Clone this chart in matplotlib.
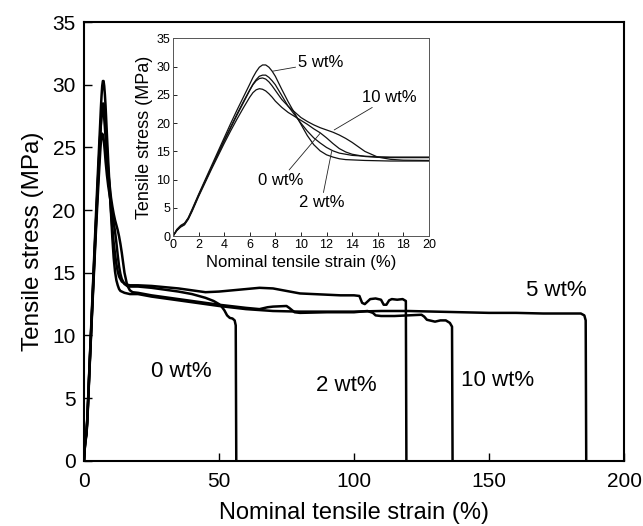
import matplotlib
matplotlib.use("Agg")
import matplotlib.pyplot as plt
import numpy as np

plt.rcParams['font.family'] = ['Liberation Sans', 'DejaVu Sans']

# ---- data ----
series_names = ["0 wt%", "2 wt%", "5 wt%", "10 wt%"]

strain_early = [0, 0.3, 0.6, 0.9, 1.2, 1.5, 2, 2.5, 3, 3.5, 4, 4.5, 5, 5.5, 6, 6.25, 6.5,
                6.75, 7, 7.25, 7.5, 7.75, 8, 8.5, 9, 9.5, 10, 10.5, 11, 11.5, 12, 12.5,
                13, 13.5, 14, 15, 16, 17, 18, 20]

stress_early_0 = [0, 1.0, 1.6, 2.0, 3.0, 4.4, 7.0, 9.4, 11.8, 14.1, 16.4, 18.6, 20.7, 22.7,
                  24.6, 25.4, 25.9, 26.1, 26.0, 25.7, 25.2, 24.6, 23.9, 22.8, 21.9, 21.2,
                  20.5, 19.8, 19.0, 18.3, 17.4, 16.4, 15.5, 14.9, 14.5, 14.1, 13.95, 13.9,
                  13.9, 13.9]
stress_early_2 = [0, 1.0, 1.7, 2.1, 3.1, 4.6, 7.2, 9.7, 12.1, 14.6, 17.0, 19.3, 21.6, 23.8,
                  25.9, 26.9, 27.7, 28.3, 28.5, 28.5, 28.1, 27.5, 26.8, 24.9, 23.0, 21.5,
                  20.0, 18.6, 17.4, 16.5, 15.7, 15.1, 14.7, 14.5, 14.3, 14.15, 14.05, 14.0,
                  14.0, 14.0]
stress_early_5 = [0, 1.1, 1.8, 2.2, 3.3, 4.8, 7.4, 9.9, 12.4, 14.9, 17.4, 19.9, 22.3, 24.6,
                  26.9, 28.1, 29.1, 29.9, 30.3, 30.3, 29.9, 29.2, 28.3, 26.0, 23.8, 21.8,
                  19.8, 17.8, 16.2, 15.1, 14.4, 14.0, 13.7, 13.55, 13.5, 13.4, 13.35, 13.3,
                  13.3, 13.3]
stress_early_10 = [0, 1.2, 1.9, 2.3, 3.2, 4.6, 7.2, 9.6, 12.0, 14.4, 16.8, 19.1, 21.4, 23.6,
                   25.8, 26.8, 27.5, 27.9, 28.0, 27.8, 27.3, 26.6, 25.8, 24.2, 23.0, 22.0,
                   21.0, 20.3, 19.7, 19.2, 18.8, 18.4, 17.9, 17.3, 16.6, 15.0, 14.0, 13.6,
                   13.45, 13.4]

strain_late_0 = [25, 30, 35, 40, 45, 48, 50, 51, 52, 53, 54, 55, 55.8, 56.2, 56.4]
stress_late_0 = [13.8, 13.65, 13.5, 13.3, 13.0, 12.75, 12.5, 12.3, 12.0, 11.6, 11.4, 11.35,
                 11.2, 10.8, 0]

strain_late_2 = [25, 30, 35, 40, 45, 50, 55, 60, 65, 70, 75, 80, 85, 90, 95, 100, 102, 103,
                 104, 105, 106, 108, 110, 111, 112, 113, 114, 116, 118, 119.2, 119.4]
stress_late_2 = [13.95, 13.85, 13.75, 13.6, 13.45, 13.5, 13.6, 13.7, 13.8, 13.75, 13.55,
                 13.35, 13.3, 13.25, 13.2, 13.2, 13.15, 12.6, 12.5, 12.7, 12.9, 12.95, 12.85,
                 12.45, 12.45, 12.8, 12.9, 12.85, 12.9, 12.75, 0]

strain_late_5 = [25, 30, 40, 50, 60, 70, 80, 90, 100, 110, 120, 130, 140, 150, 160, 170,
                 180, 184, 185.3, 185.8, 186]
stress_late_5 = [13.1, 12.95, 12.65, 12.35, 12.1, 11.95, 11.9, 11.9, 11.9, 11.95, 11.95,
                 11.9, 11.85, 11.8, 11.8, 11.75, 11.75, 11.75, 11.6, 11.2, 0]

strain_late_10 = [25, 30, 40, 50, 60, 65, 68, 70, 75, 76, 78, 80, 90, 100, 105, 107, 108,
                  110, 115, 120, 125, 126, 127, 128, 130, 132, 134, 135.5, 136.3, 136.5]
stress_late_10 = [13.2, 13.05, 12.75, 12.45, 12.2, 12.1, 12.25, 12.3, 12.35, 12.2, 11.85,
                  11.8, 11.85, 11.85, 11.95, 11.8, 11.6, 11.55, 11.55, 11.6, 11.65, 11.5,
                  11.25, 11.2, 11.1, 11.2, 11.2, 11.0, 10.7, 0]

main_xticks = [0, 50, 100, 150, 200]
main_yticks = [0, 5, 10, 15, 20, 25, 30, 35]
inset_xticks = [0, 2, 4, 6, 8, 10, 12, 14, 16, 18, 20]
inset_yticks = [0, 5, 10, 15, 20, 25, 30, 35]

series = {
    "0 wt%": (strain_early + strain_late_0, stress_early_0 + stress_late_0),
    "2 wt%": (strain_early + strain_late_2, stress_early_2 + stress_late_2),
    "5 wt%": (strain_early + strain_late_5, stress_early_5 + stress_late_5),
    "10 wt%": (strain_early + strain_late_10, stress_early_10 + stress_late_10),
}

# ---- figure ----
fig = plt.figure(figsize=(6.43, 5.26), dpi=100)
ax = fig.add_axes([0.1306, 0.124, 0.8399, 0.834])

for name in series_names:
    x, y = series[name]
    ax.plot(x, y, color='black', lw=1.8, solid_joinstyle='round')

ax.set_xlim(0, 200)
ax.set_ylim(0, 35)
ax.set_xticks(main_xticks)
ax.set_yticks(main_yticks)
ax.tick_params(direction='in', length=6, width=1, labelsize=15, pad=6)
ax.tick_params(axis='x', pad=8)
for s in ax.spines.values():
    s.set_linewidth(1.5)
ax.set_xlabel("Nominal tensile strain (%)", fontsize=17, labelpad=8)
ax.set_ylabel("Tensile stress (MPa)", fontsize=17.5, labelpad=6)

ax.text(36, 7.1, "0 wt%", fontsize=16, ha='center', va='center')
ax.text(97, 6.0, "2 wt%", fontsize=16, ha='center', va='center')
ax.text(153, 6.4, "10 wt%", fontsize=16, ha='center', va='center')
ax.text(175, 13.6, "5 wt%", fontsize=16, ha='center', va='center')

# ---- inset ----
ins = fig.add_axes([0.269, 0.551, 0.398, 0.376])
for name in series_names:
    x, y = series[name]
    ins.plot(x, y, color='#111111', lw=0.9)
ins.set_xlim(0, 20)
ins.set_ylim(0, 35)
ins.set_xticks(inset_xticks)
ins.set_yticks(inset_yticks)
ins.tick_params(direction='in', length=3, width=0.6, labelsize=9, pad=2)
for s in ins.spines.values():
    s.set_linewidth(0.7)
    s.set_color('#555555')
ins.set_xlabel("Nominal tensile strain (%)", fontsize=12, labelpad=3)
ins.set_ylabel("Tensile stress (MPa)", fontsize=13, labelpad=2)

arrow = dict(arrowstyle='-', lw=0.6, color='#222222', shrinkA=0, shrinkB=0)
ins.annotate("5 wt%", xy=(7.8, 29.2), xytext=(9.8, 30.7), fontsize=12,
             ha='left', va='center', arrowprops=arrow)
ins.annotate("10 wt%", xy=(12.6, 18.8), xytext=(14.8, 24.6), fontsize=12,
             ha='left', va='center', arrowprops=arrow)
ins.annotate("0 wt%", xy=(11.5, 18.2), xytext=(8.4, 9.9), fontsize=12,
             ha='center', va='center', arrowprops=arrow)
ins.annotate("2 wt%", xy=(12.4, 15.0), xytext=(11.6, 5.9), fontsize=12,
             ha='center', va='center', arrowprops=arrow)

fig.savefig("out.png", dpi=100)
